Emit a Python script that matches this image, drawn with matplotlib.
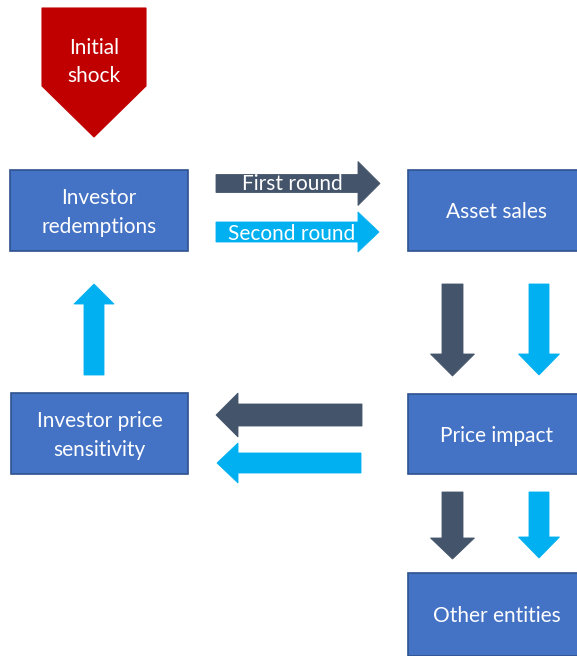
import numpy as np
import matplotlib.pyplot as plt
from matplotlib.patches import Rectangle, Polygon

plt.rcParams['font.family'] = ['Lato', 'DejaVu Sans']

# node labels and where they sit (pixel layout, y downwards)
box_labels = ["Investor\nredemptions", "Asset sales", "Price impact",
              "Investor price\nsensitivity", "Other entities"]
box_xy = [(10, 170), (408, 170), (408, 394), (11, 393), (408, 573)]
box_wh = [(178, 81), (172, 81), (172, 80), (177, 81), (172, 83)]

shock_label = "Initial\nshock"
round_labels = ["First round", "Second round"]

box_col = "#4472C4"
box_edge = "#2F528F"
dark = "#44546A"
light = "#00B0F0"
red = "#C00000"

# arrows: (tail, tip, body width, head width, head length, colour)
arrows = [
    ((216, 183.5), (380, 183.5), 18, 44, 22, dark),
    ((216, 232), (379, 232), 20, 40, 21, light),
    ((452.5, 284), (452.5, 376), 21, 44, 22, dark),
    ((539, 284), (539, 375), 20, 41, 21, light),
    ((362, 415), (216, 415), 22, 44, 22, dark),
    ((361, 463), (217, 463), 20, 40, 21, light),
    ((452.5, 492), (452.5, 559), 21, 44, 21, dark),
    ((539, 492), (539, 558), 20, 41, 21, light),
    ((94, 375), (94, 284), 20, 40, 20, light),
]


def block_arrow(tail, tip, bw, hw, hl):
    t = np.array(tail, float)
    p = np.array(tip, float)
    d = (p - t) / np.linalg.norm(p - t)
    n = np.array([-d[1], d[0]])
    base = p - d * hl
    pts = [t + n * bw / 2, base + n * bw / 2, base + n * hw / 2, p,
           base - n * hw / 2, base - n * bw / 2, t - n * bw / 2]
    return np.array(pts)


fig = plt.figure(figsize=(5.77, 6.56), dpi=100)
ax = fig.add_axes([0, 0, 1, 1])
ax.set_xlim(0, 577)
ax.set_ylim(656, 0)
ax.axis("off")

fs = 15

# initial shock pentagon
shock = Polygon([(42, 8), (146, 8), (146, 86), (94, 137), (42, 86)],
                closed=True, facecolor=red, edgecolor=red, lw=0.8)
ax.add_patch(shock)
ax.text(94, 62, shock_label, color="white", fontsize=fs, ha="center",
        va="center", linespacing=1.55)

for (x, y), (w, h), lab in zip(box_xy, box_wh, box_labels):
    ax.add_patch(Rectangle((x, y), w, h, facecolor=box_col,
                           edgecolor=box_edge, lw=1.2))
    ax.text(x + w / 2 + (3 if x > 300 else 0), y + h / 2 + 2, lab,
            color="white", fontsize=fs, ha="center", va="center",
            linespacing=1.55)

for tail, tip, bw, hw, hl, c in arrows:
    ax.add_patch(Polygon(block_arrow(tail, tip, bw, hw, hl), closed=True,
                         facecolor=c, edgecolor=c, lw=0.6))

ax.text(292, 184.5, round_labels[0], color="white", fontsize=fs,
        ha="center", va="center")
ax.text(292, 233.5, round_labels[1], color="white", fontsize=fs,
        ha="center", va="center")

fig.savefig("out.png", dpi=100, facecolor="white")
